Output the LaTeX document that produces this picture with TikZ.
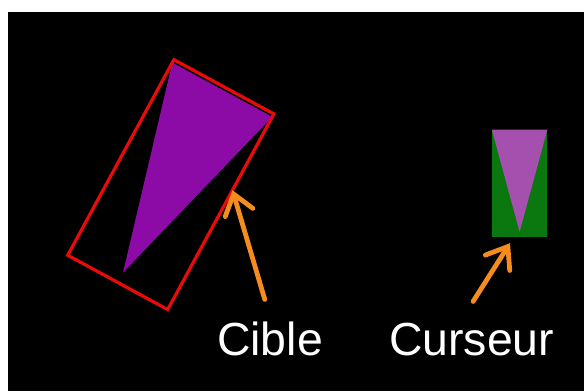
\documentclass[tikz,border=0pt]{standalone}
\usepackage{fontspec}
\setmainfont{Liberation Sans}
\usepackage{tikz}
\usetikzlibrary{calc,arrows.meta}
\usepackage{xcolor}

\definecolor{targetviolet}{RGB}{140,10,165}
\definecolor{cursorviolet}{RGB}{165,80,175}
\definecolor{cursorgreen}{RGB}{10,120,15}
\definecolor{pointerorange}{RGB}{245,140,30}
\definecolor{framered}{RGB}{235,10,10}

\begin{document}
\begin{tikzpicture}[
    targetbox/.style={
      rectangle,
      rotate=-28.5,
      minimum width=2.83cm,
      minimum height=5.55cm,
      inner sep=0pt
    },
    cursorbox/.style={
      rectangle,
      fill=cursorgreen,
      minimum width=1.375cm,
      minimum height=2.675cm,
      inner sep=0pt
    },
    caption/.style={
      text=white,
      anchor=base,
      inner sep=0.1cm,
      font=\fontsize{33}{40}\selectfont
    },
    pointer/.style={
      draw=pointerorange,
      line width=0.12cm,
      line cap=round,
      -{Straight Barb[length=0.48cm,width=0.72cm,line cap=round]}
    }
  ]

    % Fond
    \useasboundingbox (0,0) rectangle (14.6,9.775);
    \fill[white] (0,0) rectangle (14.6,9.775);
    \fill[black] (0.2,0) rectangle (14.6,9.475);

    % Cible
    \node[targetbox] (cible) at (4.27,5.16) {};
    \fill[targetviolet]
      ($(cible.north west)!0.015!(cible.south west)$) --
      ($(cible.north east)!0.015!(cible.south east)$) --
      ($(cible.south)!0.05!(cible.north)$) -- cycle;
    \draw[framered, line width=0.08cm]
      (cible.north west) -- (cible.north east) --
      (cible.south east) -- (cible.south west) -- cycle;
    \coordinate (cible hit) at ($(cible.north east)!0.39!(cible.south east)$);

    % Curseur
    \node[cursorbox] (curseur) at (12.99,5.19) {};
    \fill[cursorviolet]
      (curseur.north west) -- (curseur.north east) --
      ($(curseur.south)!0.05!(curseur.north)$) -- cycle;
    \coordinate (curseur hit) at ([xshift=-0.24cm, yshift=-0.15cm]curseur.south);

    % Légendes
    \node[caption] (cible label) at (6.75,0.9) {Cible};
    \node[caption] (curseur label) at (11.79,0.9) {Curseur};

    % Flèches
    \draw[pointer, shorten <=0.46cm] (cible label.north) -- (cible hit);
    \draw[pointer, shorten <=0.5cm]
      ([xshift=-0.23cm]curseur label.north) -- (curseur hit);

  \end{tikzpicture}
\end{document}
